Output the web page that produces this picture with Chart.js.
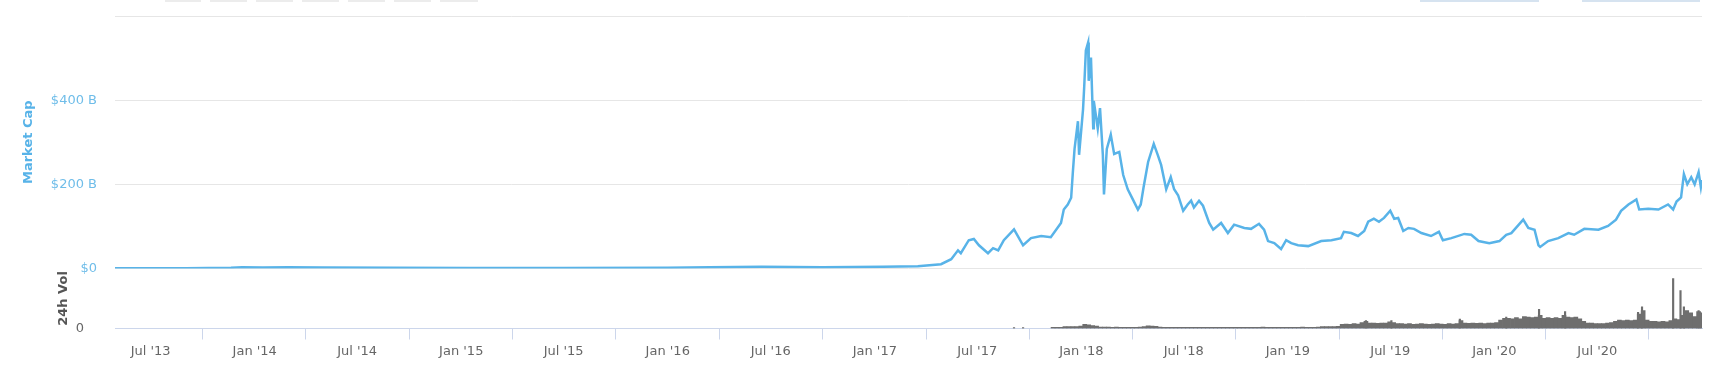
<!DOCTYPE html>
<html>
<head>
<meta charset="utf-8">
<script src="https://cdn.jsdelivr.net/npm/chart.js@4.4.1/dist/chart.umd.min.js"></script>
<style>
  body { margin: 0; background: #fff; }
  #wrap { position: relative; width: 1726px; height: 365px; }
  .btn { position: absolute; top: 0; height: 2px; background: #ececec; }
  .inp { position: absolute; top: 0; height: 2px; background: #d6e3f0; }
</style>
</head>
<body>
<div id="wrap">
  <canvas id="chart" width="1726" height="365"></canvas>
  <div class="btn" style="left:165px;width:36px"></div>
  <div class="btn" style="left:210px;width:37px"></div>
  <div class="btn" style="left:256px;width:37px"></div>
  <div class="btn" style="left:302px;width:37px"></div>
  <div class="btn" style="left:348px;width:37px"></div>
  <div class="btn" style="left:394px;width:37px"></div>
  <div class="btn" style="left:440px;width:38px"></div>
  <div class="inp" style="left:1420px;width:119px"></div>
  <div class="inp" style="left:1582px;width:118px"></div>
</div>
<script>
const xMin = '2013-04-29';
const xMax = '2021-01-02';
const xTickDates = ['2013-07-01', '2014-01-01', '2014-07-01', '2015-01-01', '2015-07-01',
  '2016-01-01', '2016-07-01', '2017-01-01', '2017-07-01', '2018-01-01', '2018-07-01',
  '2019-01-01', '2019-07-01', '2020-01-01', '2020-07-01'];
const xTickLabels = ["Jul '13", "Jan '14", "Jul '14", "Jan '15", "Jul '15",
  "Jan '16", "Jul '16", "Jan '17", "Jul '17", "Jan '18", "Jul '18",
  "Jan '19", "Jul '19", "Jan '20", "Jul '20"];

const capTicks = [0, 200, 400, 600];
const capTickLabels = ['$0', '$200 B', '$400 B', ''];

// market cap, $ billions
const capDates = [
  '2013-04-29', '2013-09-01', '2013-11-20', '2013-12-10', '2014-01-15', '2014-03-01', '2014-05-01',
  '2014-09-01', '2015-01-15', '2015-07-01', '2016-01-01', '2016-03-15', '2016-06-15', '2016-10-01', '2017-01-15',
  '2017-03-18', '2017-04-28', '2017-05-16', '2017-05-28', '2017-06-02', '2017-06-16', '2017-06-25', '2017-07-04',
  '2017-07-20', '2017-07-29', '2017-08-07', '2017-08-17', '2017-09-04', '2017-09-20', '2017-10-04', '2017-10-22',
  '2017-11-08', '2017-11-26', '2017-12-01', '2017-12-08', '2017-12-14', '2017-12-17', '2017-12-20', '2017-12-26',
  '2017-12-28',
  '2018-01-04', '2018-01-06', '2018-01-09', '2018-01-13', '2018-01-14', '2018-01-18', '2018-01-22', '2018-01-23',
  '2018-01-30', '2018-02-03', '2018-02-08', '2018-02-10', '2018-02-15', '2018-02-22', '2018-02-28', '2018-03-09',
  '2018-03-16', '2018-03-24', '2018-04-02', '2018-04-11', '2018-04-16', '2018-04-21', '2018-04-29', '2018-05-09',
  '2018-05-16', '2018-05-22', '2018-05-31', '2018-06-08', '2018-06-14', '2018-06-21', '2018-06-30', '2018-07-08',
  '2018-07-14', '2018-07-19', '2018-07-28', '2018-08-04', '2018-08-15', '2018-08-22', '2018-09-05', '2018-09-17',
  '2018-09-28', '2018-10-16', '2018-10-28', '2018-11-11', '2018-11-20', '2018-11-27', '2018-12-08', '2018-12-20',
  '2018-12-29',
  '2019-01-07', '2019-01-19', '2019-02-06', '2019-03-01', '2019-03-19', '2019-04-05', '2019-04-10', '2019-04-23',
  '2019-05-05', '2019-05-16', '2019-05-23', '2019-06-02', '2019-06-11', '2019-06-20', '2019-07-01', '2019-07-08',
  '2019-07-15', '2019-07-24', '2019-08-02', '2019-08-12', '2019-08-25', '2019-09-11', '2019-09-25', '2019-10-02',
  '2019-10-17', '2019-11-09', '2019-11-21', '2019-12-04', '2019-12-23',
  '2020-01-10', '2020-01-22', '2020-01-31', '2020-02-21', '2020-03-01', '2020-03-12', '2020-03-19', '2020-03-22',
  '2020-04-05', '2020-04-23', '2020-05-11', '2020-05-21', '2020-06-08', '2020-07-03', '2020-07-20', '2020-08-03',
  '2020-08-12', '2020-08-25', '2020-09-08', '2020-09-13', '2020-09-29', '2020-10-17', '2020-11-03', '2020-11-12',
  '2020-11-18', '2020-11-26', '2020-12-01', '2020-12-07', '2020-12-14', '2020-12-20', '2020-12-27', '2020-12-31',
  '2021-01-02'
];
const capValues = [
  0.3, 0.5, 1.5, 2.8, 2.4, 3.0, 2.0,
  1.5, 1.2, 1.0, 1.5, 3.0, 4.0, 3.0, 4.0,
  5, 10, 22, 43, 36, 67, 70, 55,
  36, 48, 43, 67, 93, 55, 72, 77,
  74, 108, 140, 152, 168, 229, 284, 350,
  270,
  378, 430, 518, 537, 446, 501, 333, 398,
  333, 381, 270, 176, 284, 318, 272, 277,
  222, 188, 164, 140, 152, 193, 253, 296,
  270, 246, 188, 217, 188, 174, 137, 152,
  161, 145, 161, 149, 108, 92, 108, 84,
  104, 96, 94, 106, 92, 65, 60, 46,
  67,
  60, 55, 53, 65, 67, 72, 87, 84,
  77, 89, 111, 118, 111, 120, 137, 118,
  120, 89, 96, 94, 84, 77, 87, 67,
  72, 82, 80, 65, 60,
  65, 80, 84, 116, 96, 92, 55, 51,
  65, 72, 84, 80, 94, 92, 101, 116,
  137, 152, 164, 140, 142, 140, 152, 140,
  159, 169, 224, 200, 217, 200, 229, 193,
  210
];

// 24h volume, weekly bars from volStart (axis top = 100)
const volStart = '2017-11-12';
const volValues = [
  2, 2, 2, 3, 3, 3, 3, 4, 7, 6, 5, 4,
  2.5, 2.5, 2.5, 2, 2.5, 2, 2, 2, 2, 2, 2.5, 3,
  4.5, 4, 3.5,
  2.5, 2, 2, 2, 2, 2, 2, 2, 2, 2, 2, 2, 2, 2, 2, 2, 2, 2, 2, 2,
  2, 2, 2, 2, 2, 2, 2.5, 2, 2, 2, 2, 2, 2, 2, 2, 2, 2.5, 2, 2, 2,
  2.5, 3, 3, 3, 3, 3.5,
  7, 7.5, 7, 8, 7.5, 10, 12, 9, 9, 8.5, 9, 9, 11, 10, 8, 8,
  7.5, 8, 7, 7.5, 8, 7.5, 7, 7.5, 8, 7.5, 7, 8, 7.5, 8,
  13,
  9, 8.5, 9, 8.5, 9, 8, 9, 9,
  10, 14, 17, 17, 16, 18, 16, 20, 19, 18,
  19, 22, 17, 18, 17, 18, 17, 22, 19, 18,
  19, 16, 12, 9, 9, 8, 8, 8, 9, 10,
  12, 14, 13, 14, 13, 14, 24, 30, 14, 12,
  12, 11, 12, 11, 13, 16, 15, 22, 30, 26,
  20, 28, 26
];
const volSpikeDates = ['2017-09-04', '2017-09-20', '2019-05-19', '2019-07-03', '2019-11-01', '2020-01-22',
  '2020-03-20', '2020-05-05', '2020-09-11', '2020-09-18', '2020-11-12', '2020-11-25', '2020-12-01', '2020-12-27'];
const volSpikeValues = [1.5, 1.5, 13, 13, 15.5, 19, 32, 28, 27, 36, 83, 63, 36, 30];

const DAY = 86400000;
const ts = d => Date.parse(d);
const font = { family: 'DejaVu Sans', size: 13 };
const blue = '#58b3e8';

const capData = capDates.map((d, i) => ({ x: ts(d), y: capValues[i] }));
const volData = volValues.map((v, i) => ({ x: ts(volStart) + i * 7 * DAY, y: v }));
const spikeData = volSpikeDates.map((d, i) => ({ x: ts(d), y: volSpikeValues[i] }));

// keep the plot area where the padding says, labels may overflow
function noPad(s) {
    s.paddingTop = 0;
    s.paddingBottom = 0;
    s.paddingLeft = 0;
    s.paddingRight = 0;
}

new Chart(document.getElementById('chart'), {
    type: 'line',
    data: {
        datasets: [{
            type: 'line',
            label: 'Market Cap',
            yAxisID: 'yCap',
            data: capData,
            borderColor: blue,
            borderWidth: 2.5,
            pointRadius: 0,
            tension: 0,
            fill: false
        }, {
            type: 'bar',
            label: '24h Vol',
            yAxisID: 'yVol',
            data: volData,
            backgroundColor: '#6e6e6e',
            barThickness: 4,
            grouped: false
        }, {
            type: 'bar',
            label: '24h Vol spikes',
            yAxisID: 'yVol',
            data: spikeData,
            backgroundColor: '#6e6e6e',
            barThickness: 1.5,
            grouped: false
        }]
    },
    options: {
        responsive: false,
        animation: false,
        devicePixelRatio: 1,
        layout: { padding: { top: 16, right: 24, left: 0, bottom: 0 } },
        plugins: { legend: { display: false }, tooltip: { enabled: false } },
        scales: {
            x: {
                type: 'linear',
                min: ts(xMin),
                max: ts(xMax),
                offset: false,
                afterBuildTicks: s => { s.ticks = xTickDates.map(d => ({ value: ts(d) })); },
                afterFit: s => { s.height = 36.5; noPad(s); },
                grid: { drawOnChartArea: false, drawTicks: true, tickLength: 11, color: '#ccd6eb' },
                border: { color: '#ccd6eb', width: 1 },
                ticks: {
                    autoSkip: false,
                    maxRotation: 0,
                    padding: 4,
                    color: '#666666',
                    font: font,
                    callback: v => {
                        const i = xTickDates.findIndex(d => ts(d) === v);
                        return i >= 0 ? xTickLabels[i] : '';
                    }
                }
            },
            yVol: {
                position: 'left',
                stack: 'left',
                stackWeight: 60,
                min: 0,
                max: 100,
                afterBuildTicks: s => { s.ticks = [{ value: 0 }]; },
                afterFit: s => { s.width = 115; noPad(s); },
                grid: { display: false },
                border: { display: false },
                ticks: { padding: 23, color: '#666666', font: font, callback: () => '0' },
                title: {
                    display: true,
                    text: '24h Vol',
                    color: '#555555',
                    font: { family: 'DejaVu Sans', size: 13, weight: 'bold' },
                    padding: { top: 56, bottom: 0 }
                }
            },
            yCap: {
                position: 'left',
                stack: 'left',
                stackWeight: 252,
                min: 0,
                max: 600,
                afterBuildTicks: s => { s.ticks = capTicks.map(v => ({ value: v })); },
                afterFit: s => { s.width = 115; noPad(s); },
                grid: { color: '#e6e6e6', drawTicks: false },
                border: { display: false },
                ticks: {
                    padding: 18,
                    color: '#6fbde9',
                    font: font,
                    callback: v => capTickLabels[capTicks.indexOf(v)]
                },
                title: {
                    display: true,
                    text: 'Market Cap',
                    color: blue,
                    font: { family: 'DejaVu Sans', size: 13, weight: 'bold' },
                    padding: { top: 21, bottom: 0 }
                }
            }
        }
    }
});
</script>
</body>
</html>
